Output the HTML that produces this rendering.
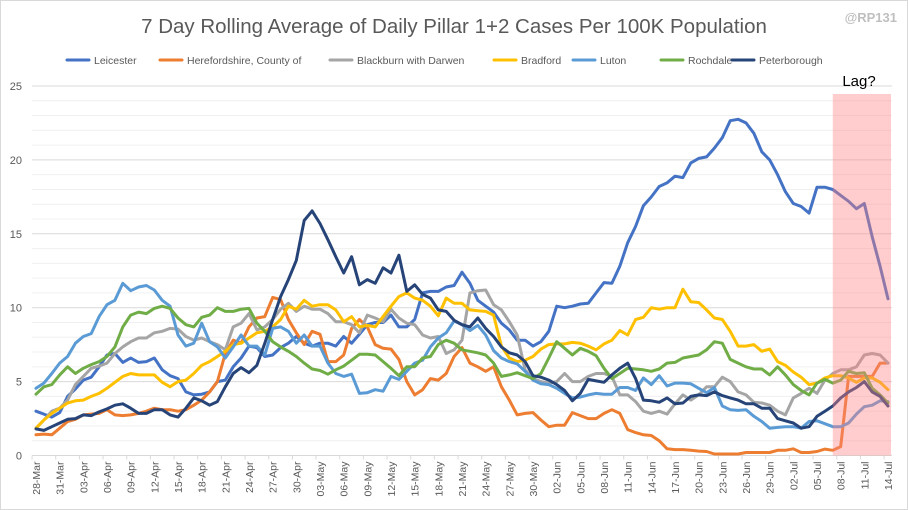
<!DOCTYPE html>
<html><head><meta charset="utf-8"><style>
body{margin:0;background:#fff}
svg{display:block;font-family:"Liberation Sans",sans-serif}
</style></head><body>
<svg id="chart" width="908" height="510">
<rect x="0.5" y="0.5" width="907" height="509" fill="#fff" stroke="#d9d9d9"/>
<text x="454" y="33" text-anchor="middle" font-size="20.5" fill="#595959">7 Day Rolling Average of Daily Pillar 1+2 Cases Per 100K Population</text>
<text x="897" y="22" text-anchor="end" font-size="13" font-weight="bold" fill="#bfbfbf">@RP131</text>
<g id="grid"></g>
<g id="yticks"></g>
<g id="xticks"></g>
<g id="series"></g>
<rect id="lag" fill="rgb(255,130,130)" fill-opacity="0.4"/>
<text x="859" y="86" text-anchor="middle" font-size="15" fill="#000">Lag?</text>
<g id="legend"></g>
</svg>
<script>
const startDate = [2020, 2, 28];
const yTickValues = [0, 5, 10, 15, 20, 25];
const seriesNames = ["Leicester","Herefordshire, County of","Blackburn with Darwen","Bradford","Luton","Rochdale","Peterborough"];
const seriesColors = ["#4472C4","#ED7D31","#A5A5A5","#FFC000","#5B9BD5","#70AD47","#264478"];
const leicester = [3.0,2.8,2.6,2.9,4.0,4.5,5.1,5.3,6.0,6.8,6.9,6.3,6.6,6.3,6.35,6.6,5.8,5.4,5.2,4.3,4.1,4.15,4.3,5.0,5.1,6.0,6.6,7.4,7.3,6.7,6.8,7.3,7.6,8.05,7.6,7.4,7.6,7.6,7.4,8.05,7.6,8.2,8.85,9.0,9.0,9.5,8.7,8.7,9.2,11.0,11.1,11.1,11.4,11.5,12.4,11.65,10.5,10.1,9.7,8.95,8.5,7.8,7.8,7.4,7.7,8.4,10.1,10.0,10.1,10.25,10.3,11.0,11.7,11.65,12.8,14.4,15.5,16.9,17.5,18.2,18.45,18.9,18.8,19.8,20.1,20.2,20.8,21.5,22.65,22.75,22.5,21.8,20.55,20.0,19.0,17.85,17.05,16.85,16.4,18.15,18.15,18.0,17.6,17.2,16.7,17.05,14.8,12.8,10.6];
const herefordshire = [1.4,1.45,1.4,1.85,2.3,2.45,2.75,2.8,2.85,3.1,2.75,2.7,2.75,2.85,3.0,3.2,3.1,3.1,3.0,3.1,3.4,3.75,4.3,5.0,6.9,7.8,7.6,8.7,9.3,9.4,10.7,10.55,9.2,8.3,7.5,8.4,8.2,6.35,6.35,6.8,8.6,9.2,8.7,7.5,7.25,7.2,6.5,5.0,4.1,4.45,5.2,5.1,5.55,6.7,7.3,6.25,6.0,5.7,6.0,4.65,3.75,2.75,2.85,2.9,2.4,1.95,2.05,2.05,2.9,2.7,2.5,2.5,2.85,3.1,2.85,1.75,1.55,1.4,1.35,1.0,0.45,0.4,0.4,0.35,0.3,0.27,0.1,0.1,0.1,0.1,0.2,0.2,0.2,0.2,0.35,0.35,0.45,0.2,0.2,0.27,0.43,0.35,0.6,5.35,5.35,5.35,5.35,6.25,6.25];
const blackburn = [1.85,2.4,3.0,3.2,3.75,4.8,5.35,5.9,6.05,6.25,6.9,7.35,7.7,7.95,7.95,8.3,8.4,8.6,8.55,8.05,7.8,7.95,7.7,7.5,7.15,8.7,8.95,9.6,8.5,8.7,9.2,9.9,10.3,9.75,10.1,9.9,9.9,9.6,9.05,9.05,8.85,8.3,9.5,9.3,9.05,9.9,9.3,8.95,8.85,8.15,7.95,8.05,6.9,7.15,7.8,11.0,11.15,11.2,10.2,9.85,9.05,8.15,5.8,5.2,5.0,4.9,5.0,5.55,5.0,5.0,5.35,5.55,5.55,5.35,4.1,4.1,3.65,3.0,2.85,3.0,2.8,3.5,4.1,3.75,4.1,4.65,4.65,5.3,5.0,4.3,4.1,3.6,3.55,3.4,3.0,2.75,3.9,4.2,4.55,4.2,5.1,5.55,5.8,5.8,6.0,6.8,6.9,6.8,6.25];
const bradford = [1.85,2.4,2.85,3.2,3.55,3.7,3.75,4.0,4.2,4.55,4.95,5.35,5.55,5.45,5.45,5.45,4.95,4.65,5.0,5.1,5.55,6.1,6.35,6.7,7.05,7.5,7.6,7.95,8.3,8.4,8.7,9.2,10.1,9.9,10.5,10.1,10.2,10.2,9.85,9.05,9.4,8.7,8.8,8.7,9.4,10.1,10.75,11.0,10.65,10.5,10.1,9.45,10.65,10.3,10.3,9.85,9.8,9.75,9.5,7.4,6.6,6.35,6.45,6.7,7.2,7.5,7.55,7.55,7.65,7.6,7.4,7.15,7.55,7.8,8.45,8.15,9.2,9.35,10.0,9.9,10.0,10.0,11.25,10.4,10.35,9.85,9.3,9.2,8.4,7.4,7.4,7.5,7.05,7.2,6.35,6.1,5.65,5.3,4.8,4.9,5.25,5.4,5.4,5.25,4.95,5.25,5.25,4.95,4.45];
const luton = [4.55,4.9,5.55,6.25,6.7,7.6,8.05,8.25,9.4,10.2,10.5,11.65,11.15,11.4,11.5,11.2,10.5,10.1,8.15,7.4,7.6,8.95,7.7,7.35,6.6,7.35,8.15,7.4,7.4,6.8,8.6,8.7,8.4,7.6,8.15,7.4,7.4,6.25,5.55,5.35,5.5,4.2,4.25,4.45,4.35,5.35,5.15,5.7,6.25,6.45,7.35,7.95,8.3,9.1,8.85,8.45,8.8,8.15,7.1,6.6,6.35,6.2,5.7,5.1,4.85,4.8,4.55,4.2,3.9,3.95,4.1,4.2,4.15,4.15,4.6,4.6,4.4,5.25,4.8,5.4,4.7,4.9,4.9,4.85,4.55,4.25,4.6,3.35,3.1,3.05,3.1,2.65,2.3,1.85,1.9,1.95,1.95,1.85,2.3,2.35,2.15,1.95,1.95,2.2,2.8,3.3,3.4,3.7,3.65];
const rochdale = [4.15,4.65,4.8,5.45,6.0,5.55,5.9,6.15,6.35,6.7,7.35,8.7,9.5,9.7,9.6,9.95,10.1,9.95,9.3,8.85,8.7,9.35,9.5,10.0,9.75,9.75,9.9,9.95,8.95,8.4,7.7,7.35,7.05,6.7,6.25,5.85,5.75,5.5,5.8,6.05,6.45,6.85,6.85,6.8,6.35,5.9,5.4,6.0,6.0,6.6,6.7,7.5,7.8,7.6,7.15,7.05,6.95,6.8,6.25,5.35,5.45,5.6,5.4,5.2,5.55,6.6,7.7,7.25,6.8,7.25,7.05,6.75,5.9,5.2,5.55,5.9,5.85,5.8,5.7,5.85,6.25,6.3,6.6,6.7,6.8,7.15,7.7,7.6,6.5,6.25,6.0,5.85,5.85,5.45,6.0,5.45,4.8,4.4,4.1,4.9,5.15,4.9,5.1,5.7,5.55,5.6,4.55,4.1,3.55];
const peterborough = [1.8,1.7,1.95,2.2,2.45,2.5,2.75,2.7,2.95,3.15,3.4,3.5,3.2,2.85,2.85,3.1,3.1,2.75,2.6,3.2,3.9,3.7,3.4,3.65,4.65,5.55,5.95,5.6,6.1,7.6,9.2,10.75,11.9,13.2,15.9,16.55,15.7,14.6,13.45,12.35,13.45,11.55,11.9,11.65,12.7,12.35,13.55,11.1,11.55,10.9,10.65,9.85,9.75,9.15,8.85,8.7,9.3,8.6,8.05,7.35,6.95,6.8,6.35,5.4,5.3,5.1,4.8,4.4,3.7,4.2,5.15,5.05,4.95,5.45,5.9,6.25,5.2,3.75,3.7,3.6,3.9,3.5,3.55,4.0,4.1,4.05,4.3,4.05,3.9,3.75,3.5,3.5,3.2,3.2,2.5,2.35,2.2,1.85,1.95,2.65,3.0,3.35,3.9,4.3,4.6,5.0,4.3,4.0,3.35];
const seriesValues = [leicester, herefordshire, blackburn, bradford, luton, rochdale, peterborough];
const lagStartIndex = 101;

const NS = "http://www.w3.org/2000/svg";
const X0 = 36, X1 = 888, Y0 = 455.5, Y1 = 86, YMAX = 25;
const nPts = leicester.length;
function xPos(i){ return X0 + i * (X1 - X0) / (nPts - 1); }
function yPos(v){ return Y0 - v * (Y0 - Y1) / YMAX; }
function mk(tag, attrs, parent){ const e=document.createElementNS(NS,tag); for(const k in attrs) e.setAttribute(k,attrs[k]); parent.appendChild(e); return e; }
const step = (X1 - X0) / (nPts - 1);

const grid = document.getElementById('grid');
for (let v = 1; v <= YMAX; v++) {
  const ln = mk('line',{x1:X0-step/2,x2:X1+step/2,y1:yPos(v),y2:yPos(v),stroke: v%5===0?'#d9d9d9':'#f0f0f0','stroke-width':1},grid);
  
  
}
const axis = mk('line',{x1:X0-step/2,x2:X1+step/2,y1:Y0,y2:Y0,stroke:'#d9d9d9'},grid);



const yt = document.getElementById('yticks');
yTickValues.forEach(v=>{
  const t = mk('text',{x:22,y:yPos(v)+4,'text-anchor':'end','font-size':11,fill:'#595959'},yt);
  t.textContent = v;
  
  
});

const xt = document.getElementById('xticks');
const months = ["Jan","Feb","Mar","Apr","May","Jun","Jul","Aug","Sep","Oct","Nov","Dec"];
for (let i = 0; i < nPts; i += 3) {
  const d = new Date(startDate[0], startDate[1], startDate[2] + i);
  const lbl = String(d.getDate()).padStart(2,'0') + '-' + months[d.getMonth()];
  const x = xPos(i);
  const t = mk('text',{x:0,y:0,'text-anchor':'end','font-size':10.5,fill:'#595959',transform:`translate(${x+4},${Y0+6}) rotate(-90)`},xt);
  t.textContent = lbl;
  
  
  const tk = mk('line',{x1:x-step/2,x2:x-step/2,y1:Y0,y2:Y0+4,stroke:'#d9d9d9'},xt);
  
  
}

const sg = document.getElementById('series');
seriesValues.forEach((arr, s) => {
  const pts = arr.map((v,i)=>xPos(i).toFixed(1)+','+yPos(v).toFixed(1)).join(' ');
  const pl = mk('polyline',{points:pts,fill:'none',stroke:seriesColors[s],'stroke-width':3,'stroke-linejoin':'round','stroke-linecap':'round'},sg);
  
  
});

const lag = document.getElementById('lag');
lag.setAttribute('x', xPos(lagStartIndex));
lag.setAttribute('width', 891 - xPos(lagStartIndex));
lag.setAttribute('y', 94);
lag.setAttribute('height', Y0 - 94);

const lg = document.getElementById('legend');
const legX = [67, 160, 330, 494, 573, 661, 732];
seriesNames.forEach((n, s) => {
  const g = mk('g',{},lg);
  
  
  mk('line',{x1:legX[s],x2:legX[s]+22,y1:60,y2:60,stroke:seriesColors[s],'stroke-width':3,'stroke-linecap':'round'},g);
  const t = mk('text',{x:legX[s]+27,y:64,'font-size':10.5,fill:'#595959'},g);
  t.textContent = n;
});
</script>
</body></html>
